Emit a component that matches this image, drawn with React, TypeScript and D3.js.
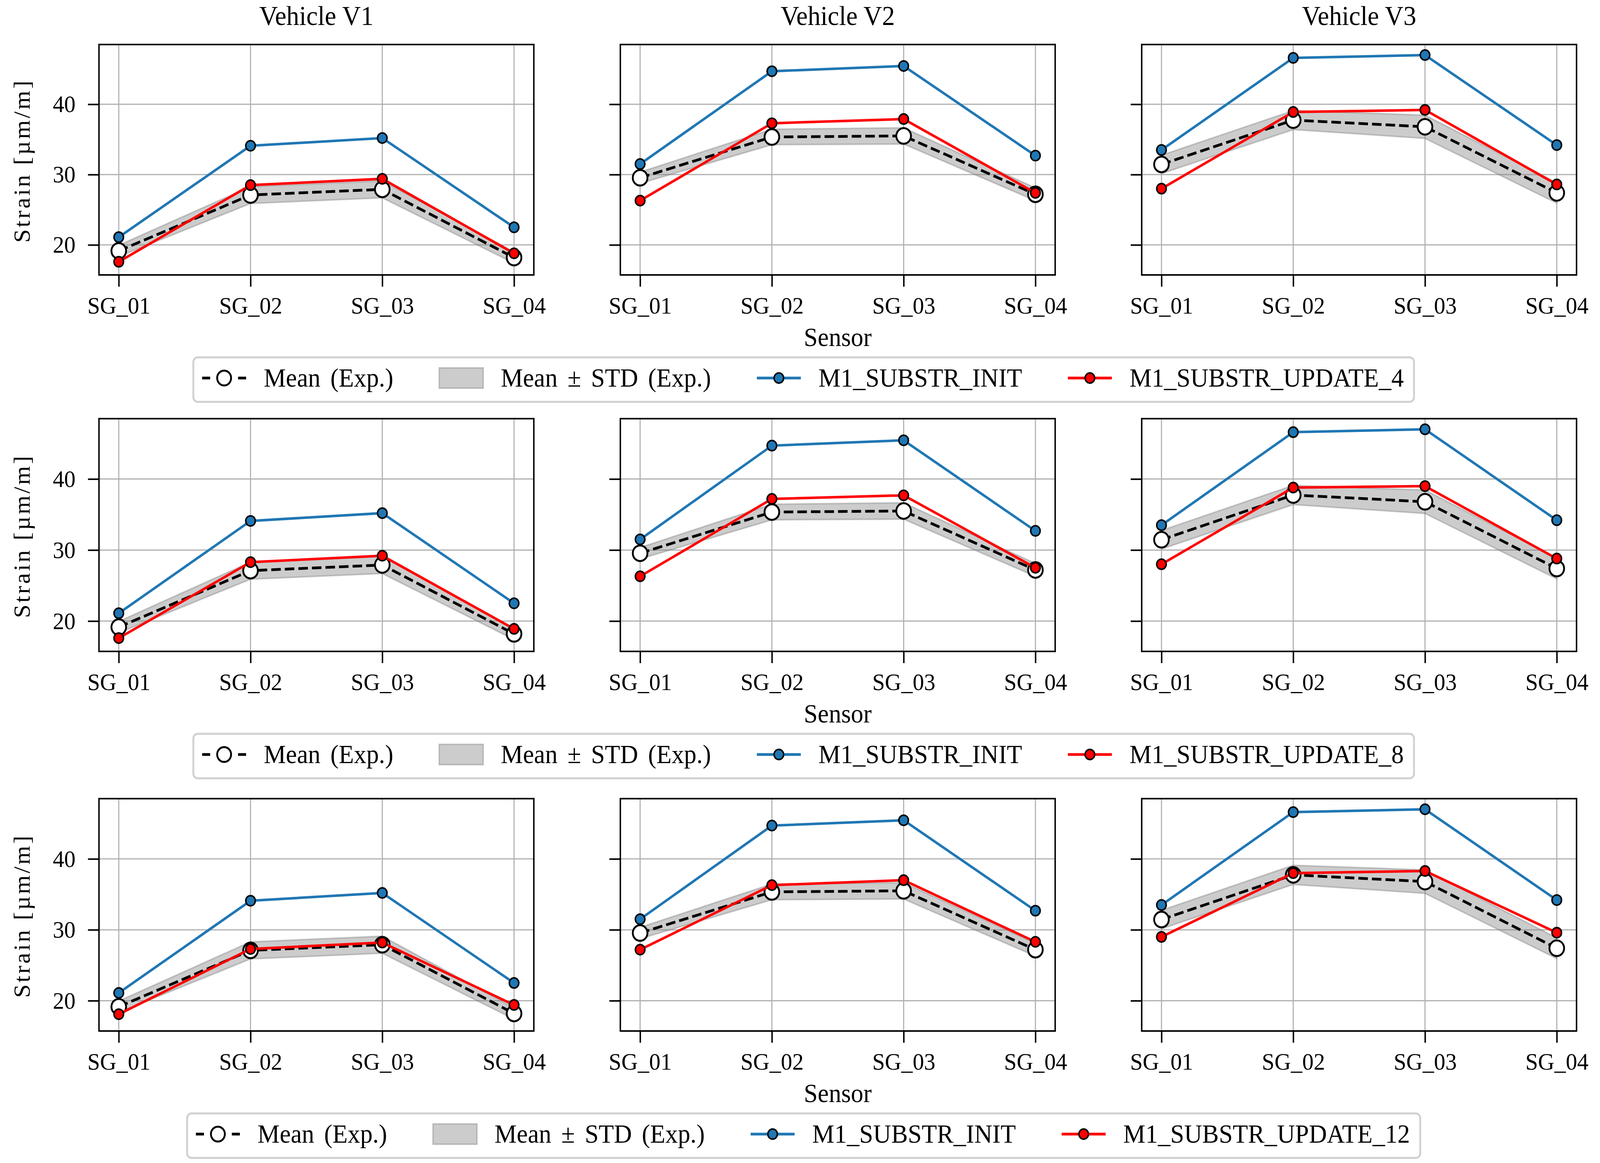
import React, { useEffect, useRef } from 'react';
import * as d3 from 'd3';

// categories
const sensors = ['SG_01', 'SG_02', 'SG_03', 'SG_04'];
const vehicles = ['Vehicle V1', 'Vehicle V2', 'Vehicle V3'];
const yTicks = [20, 30, 40];

// experimental mean and standard deviation, one array per vehicle
const meanV1 = [19.15, 27.1, 27.9, 18.2];
const meanV2 = [29.55, 35.35, 35.5, 27.2];
const meanV3 = [31.45, 37.75, 36.8, 27.4];
const stdV1 = [0.8, 1.2, 1.2, 0.8];
const stdV2 = [0.8, 1.1, 1.15, 0.9];
const stdV3 = [1.3, 1.35, 1.65, 1.45];

// initial model
const initV1 = [21.1, 34.1, 35.2, 22.5];
const initV2 = [31.5, 44.7, 45.45, 32.7];
const initV3 = [33.5, 46.6, 47.0, 34.2];

// updated models (V1, V2, V3)
const update4 = [
  [17.6, 28.5, 29.4, 18.8],
  [26.3, 37.3, 37.9, 27.4],
  [28.0, 38.9, 39.2, 28.6],
];
const update8 = [
  [17.6, 28.3, 29.2, 18.9],
  [26.3, 37.2, 37.7, 27.5],
  [28.0, 38.8, 39.0, 28.8],
];
const update12 = [
  [18.1, 27.3, 28.2, 19.4],
  [27.2, 36.3, 37.0, 28.3],
  [29.0, 38.0, 38.3, 29.6],
];
const updateNames = ['M1_SUBSTR_UPDATE_4', 'M1_SUBSTR_UPDATE_8', 'M1_SUBSTR_UPDATE_12'];

const means = [meanV1, meanV2, meanV3];
const stds = [stdV1, stdV2, stdV3];
const inits = [initV1, initV2, initV3];
const updates = [update4, update8, update12];

const W = 4364;
const H = 2978;
const colLeft = [270, 1692, 3114];
const colWidth = 1186;
const rowTop = [114, 1072, 2045];
const rowHeight = [590, 596, 595];
const FONT = "'Liberation Serif', 'Times New Roman', serif";
const BLUE = '#1f77b4';
const RED = '#ff0000';

const App = () => {
  const ref = useRef(null);

  useEffect(() => {
    document.body.style.margin = '0';
    document.body.style.overflow = 'hidden';
    drawChart();
  }, []);

  const drawChart = () => {
    const svg = d3.select(ref.current);
    svg.selectAll('*').remove();
    svg.append('rect').attr('width', W).attr('height', H).attr('fill', 'white');

    const x = d3.scaleLinear().domain([-0.15, 3.15]).range([0, colWidth]);

    updates.forEach((upd, ri) => {
      const h = rowHeight[ri];
      const y = d3.scaleLinear().domain([15.73, 48.5]).range([h, 0]);

      vehicles.forEach((veh, ci) => {
        const g = svg.append('g').attr('transform', `translate(${colLeft[ci]},${rowTop[ri]})`);

        // grid
        g.selectAll('.gx')
          .data(sensors)
          .enter()
          .append('line')
          .attr('x1', (d, i) => x(i))
          .attr('x2', (d, i) => x(i))
          .attr('y1', 0)
          .attr('y2', h)
          .attr('stroke', '#b0b0b0')
          .attr('stroke-width', 3);
        g.selectAll('.gy')
          .data(yTicks)
          .enter()
          .append('line')
          .attr('x1', 0)
          .attr('x2', colWidth)
          .attr('y1', (d) => y(d))
          .attr('y2', (d) => y(d))
          .attr('stroke', '#b0b0b0')
          .attr('stroke-width', 3);

        const mean = means[ci];
        const std = stds[ci];

        // std band
        const band = d3
          .area<number>()
          .x((d, i) => x(i))
          .y0((d, i) => y(d - std[i]))
          .y1((d, i) => y(d + std[i]));
        g.append('path')
          .datum(mean)
          .attr('d', band)
          .attr('fill', '#808080')
          .attr('fill-opacity', 0.4)
          .attr('stroke', '#808080')
          .attr('stroke-opacity', 0.4)
          .attr('stroke-width', 4);

        const line = d3
          .line<number>()
          .x((d, i) => x(i))
          .y((d) => y(d));

        // experimental mean
        g.append('path')
          .datum(mean)
          .attr('d', line)
          .attr('fill', 'none')
          .attr('stroke', 'black')
          .attr('stroke-width', 7)
          .attr('stroke-dasharray', '26 11');
        g.selectAll('.mdot')
          .data(mean)
          .enter()
          .append('circle')
          .attr('cx', (d, i) => x(i))
          .attr('cy', (d) => y(d))
          .attr('r', 20)
          .attr('fill', 'white')
          .attr('stroke', 'black')
          .attr('stroke-width', 5);

        // model series
        const series = [
          { vals: inits[ci], color: BLUE },
          { vals: upd[ci], color: RED },
        ];
        series.forEach((s) => {
          g.append('path')
            .datum(s.vals)
            .attr('d', line)
            .attr('fill', 'none')
            .attr('stroke', s.color)
            .attr('stroke-width', 6.5);
          g.selectAll(null)
            .data(s.vals)
            .enter()
            .append('circle')
            .attr('cx', (d, i) => x(i))
            .attr('cy', (d) => y(d))
            .attr('r', 13)
            .attr('fill', s.color)
            .attr('stroke', 'black')
            .attr('stroke-width', 4);
        });

        // spines
        g.append('rect')
          .attr('width', colWidth)
          .attr('height', h)
          .attr('fill', 'none')
          .attr('stroke', 'black')
          .attr('stroke-width', 4);

        // axes
        const xAxis = g
          .append('g')
          .attr('transform', `translate(0,${h})`)
          .call(
            d3
              .axisBottom(x)
              .tickValues([0, 1, 2, 3])
              .tickFormat((i: any) => sensors[i])
              .tickSize(30)
              .tickPadding(25)
          );
        const yAxis = g.append('g').call(
          d3
            .axisLeft(y)
            .tickValues(yTicks)
            .tickFormat((d: any) => (ci === 0 ? String(d) : ''))
            .tickSize(30)
            .tickPadding(34)
        );
        [xAxis, yAxis].forEach((a) => {
          a.select('.domain').remove();
          a.selectAll('.tick line').attr('stroke', 'black').attr('stroke-width', 4);
          a.selectAll('.tick text')
            .attr('fill', 'black')
            .style('font-family', FONT)
            .style('font-size', '62px');
        });

        if (ri === 0) {
          g.append('text')
            .attr('x', colWidth / 2)
            .attr('y', 64 - rowTop[0])
            .attr('text-anchor', 'middle')
            .style('font-family', FONT)
            .style('font-size', '70px')
            .text(veh);
        }
        if (ci === 1) {
          g.append('text')
            .attr('x', colWidth / 2)
            .attr('y', h + 182)
            .attr('text-anchor', 'middle')
            .style('font-family', FONT)
            .style('font-size', '68px')
            .text('Sensor');
        }
        if (ci === 0) {
          g.append('text')
            .attr('transform', `translate(${81 - colLeft[0]},${h / 2 + 5}) rotate(-90)`)
            .attr('text-anchor', 'middle')
            .attr('textLength', 415)
            .attr('lengthAdjust', 'spacing')
            .style('font-family', FONT)
            .style('font-size', '62px')
            .text('Strain [µm/m]');
        }
      });

      // legend
      const items = [
        { label: 'Mean (Exp.)', type: 'mean' },
        { label: 'Mean ± STD (Exp.)', type: 'band' },
        { label: 'M1_SUBSTR_INIT', type: 'init' },
        { label: updateNames[ri], type: 'upd' },
      ];
      const fs = 68;
      const handleLen = 120;
      const textPad = 48;
      const colSpace = 125;
      const padL = 24;
      const padR = 28;
      const boxH = 114;
      const lg = svg.append('g').attr('transform', `translate(0,${rowTop[ri] + h + 211})`);
      const widths = items.map((it) => {
        const t = lg
          .append('text')
          .style('font-family', FONT)
          .style('font-size', `${fs}px`)
          .style('word-spacing', '10px')
          .text(it.label);
        const w = (t.node() as SVGTextElement).getComputedTextLength();
        t.remove();
        return w;
      });
      const total =
        padL + padR + d3.sum(widths) + items.length * (handleLen + textPad) + (items.length - 1) * colSpace;
      const left = 2192 - total / 2;
      lg.append('rect')
        .attr('x', left)
        .attr('y', 0)
        .attr('width', total)
        .attr('height', boxH)
        .attr('rx', 12)
        .attr('fill', 'white')
        .attr('stroke', '#d0d0d0')
        .attr('stroke-width', 5);
      let cx = left + padL;
      const hy = 53;
      items.forEach((it, k) => {
        if (it.type === 'mean') {
          [
            [cx, cx + 22],
            [cx + handleLen - 22, cx + handleLen],
          ].forEach(([a, b]) => {
            lg.append('line')
              .attr('x1', a)
              .attr('x2', b)
              .attr('y1', hy)
              .attr('y2', hy)
              .attr('stroke', 'black')
              .attr('stroke-width', 7);
          });
          lg.append('circle')
            .attr('cx', cx + handleLen / 2)
            .attr('cy', hy)
            .attr('r', 19)
            .attr('fill', 'white')
            .attr('stroke', 'black')
            .attr('stroke-width', 5);
        } else if (it.type === 'band') {
          lg.append('rect')
            .attr('x', cx)
            .attr('y', hy - 26)
            .attr('width', handleLen)
            .attr('height', 52)
            .attr('fill', '#808080')
            .attr('fill-opacity', 0.4)
            .attr('stroke', '#808080')
            .attr('stroke-opacity', 0.4)
            .attr('stroke-width', 4);
        } else {
          const color = it.type === 'init' ? BLUE : RED;
          lg.append('line')
            .attr('x1', cx)
            .attr('x2', cx + handleLen)
            .attr('y1', hy)
            .attr('y2', hy)
            .attr('stroke', color)
            .attr('stroke-width', 7);
          lg.append('circle')
            .attr('cx', cx + handleLen / 2)
            .attr('cy', hy)
            .attr('r', 13)
            .attr('fill', color)
            .attr('stroke', 'black')
            .attr('stroke-width', 4);
        }
        lg.append('text')
          .attr('x', cx + handleLen + textPad)
          .attr('y', 75)
          .style('font-family', FONT)
          .style('font-size', `${fs}px`)
          .style('word-spacing', '10px')
          .text(it.label);
        cx += handleLen + textPad + widths[k] + colSpace;
      });
    });
  };

  return (
    <svg
      ref={ref}
      viewBox={`0 0 ${W} ${H}`}
      preserveAspectRatio="none"
      style={{ display: 'block', width: '100vw', height: '100vh' }}
    />
  );
};

export default App;
